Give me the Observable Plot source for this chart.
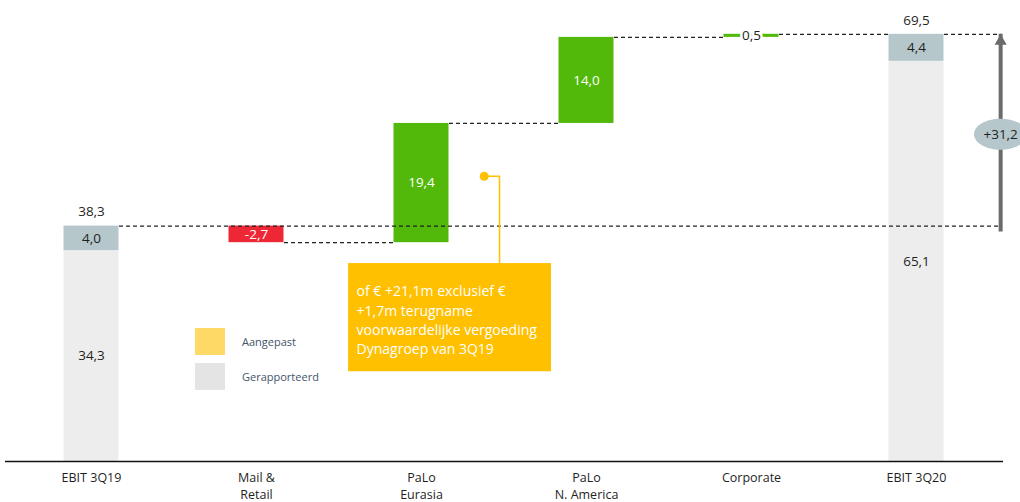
<!DOCTYPE html>
<html>
<head>
<meta charset="utf-8">
<script src="https://cdn.jsdelivr.net/npm/d3@7"></script>
<script src="https://cdn.jsdelivr.net/npm/@observablehq/plot@0.6"></script>
<style>
  html, body { margin: 0; padding: 0; background: #fff; }
  #wrap { position: relative; width: 1020px; height: 502px; font-family: "Open Sans", sans-serif; }
  .legend { position: absolute; left: 195px; top: 328px; font-size: 11px; color: #44546a; }
  .legend .row { display: flex; align-items: center; height: 27px; margin-bottom: 8px; }
  .legend .sw { width: 30px; height: 27px; margin-right: 17px; }
</style>
</head>
<body>
<div id="wrap"></div>
<script>
// ---- data ----
const categories = ["EBIT 3Q19", "Mail &\nRetail", "PaLo\nEurasia", "PaLo\nN. America", "Corporate", "EBIT 3Q20"];
const startParts = [34.3, 4.0];   // gerapporteerd, aanpassing
const endParts = [65.1, 4.4];
const deltas = [-2.7, 19.4, 14.0, 0.5]; // Mail & Retail, PaLo Eurasia, PaLo N. America, Corporate
const totalChangeLabel = "+31,2";
const calloutLines = ["of € +21,1m exclusief €", "+1,7m terugname", "voorwaardelijke vergoeding", "Dynagroep van 3Q19"];
const legendItems = [["Aangepast", "#ffd966"], ["Gerapporteerd", "#e4e4e4"]];

// ---- derived ----
const fmt = v => (v < 0 ? "-" : "") + Math.abs(v).toFixed(1).replace(".", ",");
const hw = 1 / 6;           // half bar width in category units
const arrowX = 5.51;
const n = categories.length;
const startTotal = +(startParts[0] + startParts[1]).toFixed(1);
const endTotal = +(endParts[0] + endParts[1]).toFixed(1);

const totalSegs = [
  {i: 0, y1: 0, y2: startParts[0], v: startParts[0], kind: "rep"},
  {i: 0, y1: startParts[0], y2: startTotal, v: startParts[1], kind: "adj"},
  {i: n - 1, y1: 0, y2: endParts[0], v: endParts[0], kind: "rep"},
  {i: n - 1, y1: endParts[0], y2: endTotal, v: endParts[1], kind: "adj"}
];
let level = startTotal;
const steps = deltas.map((d, k) => {
  const y1 = level;
  level = +(level + d).toFixed(1);
  return {i: k + 1, y1, y2: level, v: d};
});
const connectors = [
  {y: startTotal, x1: 0 + hw, x2: arrowX},
  ...steps.map(s => ({y: s.y2, x1: s.i + hw, x2: s.i + 1 - hw})),
  {y: endTotal, x1: n - 1 + hw, x2: arrowX}
];
const totalsTop = [{i: 0, v: startTotal}, {i: n - 1, v: endTotal}];

// annotation (callout) placement in chart units
const callout = {dotX: 2.38, dotY: 46.4, elbowX: 2.473, x1: 1.558, x2: 2.788, y1: 14.6, y2: 32.2};

const colors = {rep: "#ededed", adj: "#b6c7cb", neg: "#ee2737", pos: "#52b90a", callout: "#ffc000", arrow: "#6b6b6b", text: "#1f1f1f"};

const ellipse = {
  draw(ctx, size) {
    const r = Math.sqrt(size / Math.PI), rx = r * 1.72, ry = r, k = 0.5523;
    ctx.moveTo(rx, 0);
    ctx.bezierCurveTo(rx, ry * k, rx * k, ry, 0, ry);
    ctx.bezierCurveTo(-rx * k, ry, -rx, ry * k, -rx, 0);
    ctx.bezierCurveTo(-rx, -ry * k, -rx * k, -ry, 0, -ry);
    ctx.bezierCurveTo(rx * k, -ry, rx, -ry * k, rx, 0);
    ctx.closePath();
  }
};

const chart = Plot.plot({
  width: 1020,
  height: 502,
  marginTop: 0,
  marginBottom: 41,
  marginLeft: 5,
  marginRight: 17,
  style: {fontFamily: "'Open Sans', sans-serif", fontSize: "13.5px", color: colors.text, background: "white"},
  x: {domain: [-0.5, n - 0.5], range: [8.5, 998.5], axis: null},
  y: {domain: [0, 75], axis: null},
  marks: [
    // total bars
    Plot.rectY(totalSegs, {x1: d => d.i - hw, x2: d => d.i + hw, y1: "y1", y2: "y2", fill: d => colors[d.kind]}),
    // delta bars
    Plot.rectY(steps, {x1: d => d.i - hw, x2: d => d.i + hw, y1: "y1", y2: "y2", fill: d => d.v < 0 ? colors.neg : colors.pos}),
    // connectors
    Plot.link(connectors, {x1: "x1", x2: "x2", y1: "y", y2: "y", stroke: "#222", strokeWidth: 1.2, strokeDasharray: "4,3"}),
    // axis line
    Plot.ruleY([0], {stroke: "#111", strokeWidth: 1.5}),
    Plot.axisX({ticks: d3.range(n), tickFormat: i => categories[i], tickSize: 0, tickPadding: 8, fontSize: 12.5, lineHeight: 1.36, fill: colors.text}),
    // segment labels
    Plot.text(totalSegs, {x: "i", y: d => (d.y1 + d.y2) / 2, text: d => fmt(d.v), fill: colors.text}),
    Plot.text(totalsTop, {x: "i", y: "v", dy: -14, text: d => fmt(d.v), fill: colors.text}),
    Plot.text(steps.filter(s => Math.abs(s.v) >= 1), {x: "i", y: d => (d.y1 + d.y2) / 2, text: d => fmt(d.v), fill: "white"}),
    Plot.text(steps.filter(s => Math.abs(s.v) < 1), {x: "i", y: d => (d.y1 + d.y2) / 2, text: d => fmt(d.v), fill: colors.text, stroke: "white", strokeWidth: 5, paintOrder: "stroke"}),
    // total change arrow
    Plot.ruleX([{x: arrowX, y1: startTotal, y2: endTotal}], {x: "x", y1: "y1", y2: "y2", stroke: colors.arrow, strokeWidth: 4, insetTop: 6}),
    Plot.dot([{x: arrowX, y: endTotal}], {x: "x", y: "y", symbol: "triangle", r: 4.5, dy: 7, fill: colors.arrow, stroke: null}),
    Plot.dot([{x: arrowX, y: (startTotal + endTotal) / 2}], {x: "x", y: "y", symbol: ellipse, r: 15.5, dy: 4, fill: colors.adj, stroke: null}),
    Plot.text([{x: arrowX, y: (startTotal + endTotal) / 2, t: totalChangeLabel}], {x: "x", y: "y", dy: 4, text: "t", fill: colors.text}),
    // callout
    Plot.line([[callout.dotX, callout.dotY], [callout.elbowX, callout.dotY], [callout.elbowX, callout.y2]], {stroke: colors.callout, strokeWidth: 1.5}),
    Plot.dot([[callout.dotX, callout.dotY]], {r: 4.5, fill: colors.callout, stroke: null}),
    Plot.rect([callout], {x1: "x1", x2: "x2", y1: "y1", y2: "y2", fill: colors.callout}),
    Plot.text([calloutLines.join("\n")], {x: callout.x1, y: callout.y2, dx: 8, dy: 19, lineAnchor: "top", textAnchor: "start", lineHeight: 1.38, fill: "white", fontSize: 14})
  ]
});

const wrap = document.getElementById("wrap");
wrap.appendChild(chart);
const legend = document.createElement("div");
legend.className = "legend";
for (const [label, color] of legendItems) {
  const row = document.createElement("div");
  row.className = "row";
  const sw = document.createElement("div");
  sw.className = "sw";
  sw.style.background = color;
  const t = document.createElement("span");
  t.textContent = label;
  row.appendChild(sw); row.appendChild(t);
  legend.appendChild(row);
}
wrap.appendChild(legend);
</script>
</body>
</html>
